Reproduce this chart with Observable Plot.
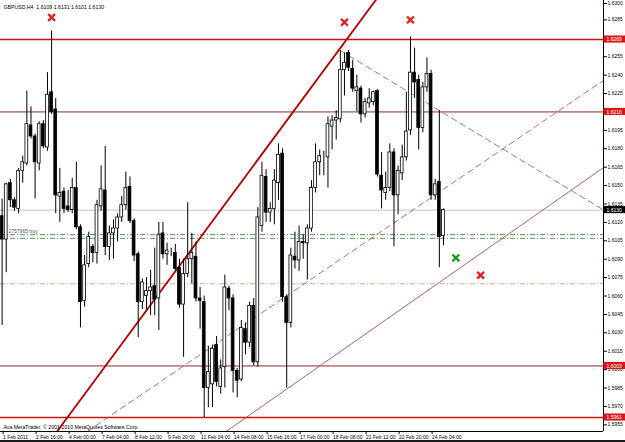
<!DOCTYPE html>
<html><head><meta charset="utf-8">
<script src="https://cdn.jsdelivr.net/npm/d3@7"></script>
<script src="https://cdn.jsdelivr.net/npm/@observablehq/plot@0.6"></script>
<style>
body{margin:0;background:#fff;}
#wrap{position:relative;width:625px;height:442px;overflow:hidden;}
#wrap svg{display:block;}
.bB{position:absolute;left:0;bottom:0;height:2px;width:625px;background:#1a1a1a;}
</style></head>
<body><div id="wrap"></div>
<script>
// ---- data (GBPUSD H4, one bar per index) ----
const opens = [1.6125,1.6106,1.6152,1.6138,1.6131,1.6162,1.6168,1.6199,1.6190,1.6168,
1.6200,1.6181,1.6226,1.6212,1.6141,1.6145,1.6133,1.6130,1.6148,1.6116,
1.6056,1.6086,1.6100,1.6095,1.6133,1.6146,1.6100,1.6111,1.6115,1.6124,
1.6134,1.6149,1.6121,1.6094,1.6055,1.6060,1.6064,1.6068,1.6058,1.6111,
1.6094,1.6096,1.6095,1.6083,1.6053,1.6078,1.6090,1.6092,1.6058,1.6055,
1.5985,1.5988,1.6020,1.5986,1.6002,1.6066,1.6058,1.5999,1.5992,1.6033,
1.6022,1.6052,1.6006,1.6117,1.6157,1.6128,1.6131,1.6152,1.6176,1.6059,
1.6038,1.6092,1.6089,1.6104,1.6103,1.6115,1.6148,1.6169,1.6173,1.6173,
1.6198,1.6203,1.6204,1.6244,1.6258,1.6245,1.6227,1.6229,1.6208,1.6217,
1.6218,1.6227,1.6158,1.6144,1.6148,1.6177,1.6142,1.6160,1.6173,1.6195,
1.6242,1.6236,1.6197,1.6230,1.6241,1.6142,1.6153,1.6109];
const highs = [1.6139,1.6152,1.6155,1.6140,1.6164,1.6174,1.6227,1.6214,1.6192,1.6202,
1.6203,1.6242,1.6276,1.6221,1.6164,1.6148,1.6146,1.6156,1.6169,1.6118,
1.6093,1.6112,1.6102,1.6138,1.6166,1.6182,1.6117,1.6122,1.6127,1.6141,
1.6161,1.6157,1.6123,1.6096,1.6074,1.6075,1.6081,1.6099,1.6120,1.6120,
1.6103,1.6099,1.6102,1.6090,1.6090,1.6136,1.6111,1.6104,1.6067,1.6060,
1.6019,1.6020,1.6027,1.6008,1.6077,1.6068,1.6061,1.6001,1.6040,1.6038,
1.6055,1.6058,1.6132,1.6169,1.6163,1.6136,1.6163,1.6184,1.6180,1.6061,
1.6099,1.6112,1.6117,1.6110,1.6118,1.6154,1.6184,1.6179,1.6178,1.6206,
1.6207,1.6211,1.6260,1.6258,1.6260,1.6252,1.6240,1.6231,1.6221,1.6229,
1.6227,1.6228,1.6177,1.6161,1.6184,1.6180,1.6166,1.6183,1.6226,1.6271,
1.6262,1.6240,1.6234,1.6254,1.6244,1.6155,1.6211,1.6131];
const lows = [1.6036,1.6079,1.6132,1.6129,1.6127,1.6152,1.6166,1.6188,1.6139,1.6162,
1.6180,1.6178,1.6208,1.6127,1.6120,1.6127,1.6128,1.6127,1.6114,1.6034,
1.6051,1.6083,1.6087,1.6086,1.6129,1.6093,1.6089,1.6090,1.6104,1.6120,
1.6130,1.6119,1.6088,1.6026,1.6049,1.6048,1.6044,1.6044,1.6032,1.6090,
1.6085,1.6092,1.6080,1.6050,1.6010,1.6075,1.6070,1.6055,1.6033,1.5961,
1.5969,1.5969,1.5986,1.5980,1.5985,1.6048,1.5981,1.5977,1.5990,1.6012,
1.6018,1.6003,1.6002,1.6112,1.6120,1.6120,1.6118,1.6138,1.6055,1.5985,
1.6034,1.6082,1.6080,1.6090,1.6073,1.6112,1.6144,1.6158,1.6158,1.6148,
1.6179,1.6187,1.6201,1.6223,1.6243,1.6226,1.6210,1.6201,1.6205,1.6213,
1.6215,1.6157,1.6131,1.6138,1.6145,1.6100,1.6126,1.6154,1.6170,1.6191,
1.6221,1.6179,1.6193,1.6226,1.6138,1.6138,1.6083,1.6101];
const closes = [1.6106,1.6151,1.6138,1.6132,1.6162,1.6169,1.6200,1.6190,1.6169,1.6200,
1.6182,1.6224,1.6210,1.6142,1.6144,1.6131,1.6130,1.6148,1.6116,1.6055,
1.6085,1.6108,1.6095,1.6134,1.6147,1.6100,1.6111,1.6115,1.6124,1.6134,
1.6148,1.6121,1.6093,1.6055,1.6071,1.6064,1.6067,1.6057,1.6110,1.6094,
1.6097,1.6096,1.6082,1.6053,1.6078,1.6090,1.6095,1.6058,1.6056,1.5985,
1.5998,1.6017,1.5990,1.6001,1.6067,1.6058,1.5999,1.5991,1.6034,1.6022,
1.6052,1.6006,1.6124,1.6158,1.6128,1.6131,1.6154,1.6175,1.6059,1.6038,
1.6093,1.6089,1.6104,1.6103,1.6115,1.6148,1.6169,1.6174,1.6173,1.6200,
1.6203,1.6205,1.6244,1.6250,1.6246,1.6229,1.6230,1.6208,1.6218,1.6221,
1.6226,1.6159,1.6146,1.6148,1.6177,1.6142,1.6162,1.6173,1.6194,1.6242,
1.6234,1.6197,1.6230,1.6241,1.6142,1.6151,1.6108,1.6130];

const xTickIdx = [0,8,16,24,32,40,48,56,64,72,80,88,96,104];
const xTickLabels = ["1 Feb 2011","2 Feb 16:00","4 Feb 00:00","7 Feb 04:00","8 Feb 12:00","9 Feb 20:00",
  "11 Feb 04:00","14 Feb 08:00","15 Feb 16:00","17 Feb 00:00","18 Feb 08:00","21 Feb 12:00",
  "22 Feb 20:00","24 Feb 04:00"];
const yTickVals = [1.6285,1.6270,1.6255,1.6240,1.6225,1.6210,1.6195,1.6180,1.6165,1.6150,1.6135,
  1.6120,1.6105,1.6090,1.6075,1.6060,1.6045,1.6030,1.6015,1.6000,1.5985,1.5970,1.5955];
const yTopTick = [1.6300];

const redLevels = [1.6269, 1.5961];       // bright red horizontal lines
const darkLevels = [1.6210, 1.6003];      // dark red horizontal lines
const labelLevels = ["1.6269","1.6210","1.6003","1.5961"];
const bidPrice = 1.6130;
const orderLevels = [1.6110, 1.6107];     // green dash-dot order lines
const tanLevel = 1.6070;

// trend line anchors [bar index, price]
const thickRed = [[20, 1.5980], [80, 1.6253]];
const lowerDashed = [[30, 1.5971], [100, 1.6131]];
const solidChannel = [[60, 1.5963], [100, 1.6057]];
const descDashed = [[82, 1.6260], [110, 1.6203]];   // ray to the right from first anchor

const crossIdx = [12, 83, 99, 116, 110];
const crossPrice = [1.6287, 1.6283, 1.6285, 1.6077, 1.6091];
const crossColor = ["#e01e1e","#e01e1e","#e01e1e","#e01e1e","#1a9a1a"];

const titleText = "GBPUSD,H4  1.6109 1.6131 1.6101 1.6130";
const copyText = "Ava MetaTrader, © 2001-2010 MetaQuotes Software Corp.";
const orderText = "2757965 buy";

// ---- build ----
const candles = opens.map((o, i) => ({i, o, h: highs[i], l: lows[i], c: closes[i]}));
const xmin = -0.388, xmax = 145.8;
const yDom = [1.59496, 1.63008];

function lineThrough(a, b, x0, x1) {
  const s = (b[1] - a[1]) / (b[0] - a[0]);
  return [[x0, a[1] + s * (x0 - a[0])], [x1, a[1] + s * (x1 - a[0])]];
}
const L1 = lineThrough(thickRed[0], thickRed[1], xmin - 5, xmax + 5);
const L2 = lineThrough(lowerDashed[0], lowerDashed[1], xmin - 5, xmax + 5);
const L3 = lineThrough(solidChannel[0], solidChannel[1], xmin - 5, xmax + 5);
const L4 = lineThrough(descDashed[0], descDashed[1], descDashed[0][0], xmax + 5);

const boxes = labelLevels.map((t) => ({t, p: +t}));
const pxPerIdx = 603 / (xmax - xmin);
const boxW = 22 / pxPerIdx;
const halfH = 0.00029;

const crosses = crossIdx.map((x, k) => ({x, y: crossPrice[k], c: crossColor[k]}));

const font = "Liberation Sans, Arial, sans-serif";

const plot = Plot.plot({
  width: 625, height: 442,
  marginLeft: 0, marginRight: 22, marginTop: 0, marginBottom: 11,
  style: {fontFamily: font, fontSize: "5px", background: "#fff"},
  x: {domain: [xmin, xmax]},
  y: {domain: yDom},
  marks: [
    // horizontal levels
    Plot.ruleY([bidPrice], {stroke: "#c4c4c4", strokeWidth: 1}),
    Plot.ruleY(orderLevels, {stroke: (d, k) => k === 0 ? "#3d9a3d" : "#6a8f6a", strokeWidth: 1, strokeDasharray: "5,2,1,2"}),
    Plot.ruleY([tanLevel], {stroke: "#d8ab8c", strokeWidth: 1, strokeDasharray: "5,2,1,2"}),
    Plot.ruleY(darkLevels, {stroke: "#8e2a2a", strokeWidth: 1}),
    Plot.ruleY(redLevels, {stroke: "#cc1111", strokeWidth: 1.6}),
    // trend lines
    Plot.line(L2, {x: d => d[0], y: d => d[1], stroke: "#a86464", strokeWidth: 0.9, strokeDasharray: "6,4", clip: true}),
    Plot.line(L4, {x: d => d[0], y: d => d[1], stroke: "#a86464", strokeWidth: 0.9, strokeDasharray: "6,4", clip: true}),
    Plot.line(L3, {x: d => d[0], y: d => d[1], stroke: "#a25555", strokeWidth: 0.9, clip: true}),
    Plot.line(L1, {x: d => d[0], y: d => d[1], stroke: "#b00000", strokeWidth: 1.8, clip: true}),
    // candles
    Plot.ruleX(candles, {x: "i", y1: "l", y2: "h", stroke: "#000", strokeWidth: 1}),
    Plot.rect(candles, {x1: d => d.i - 0.34, x2: d => d.i + 0.34, y1: "o", y2: "c",
      fill: d => d.c >= d.o ? "#fff" : "#000", stroke: "#000", strokeWidth: 0.8}),
    // fractal crosses
    Plot.dot(crosses, {x: "x", y: "y", symbol: "times", r: 3.2, stroke: "c", strokeWidth: 2.3}),
    // texts
    Plot.text([titleText], {frameAnchor: "top-left", dx: 3, dy: 5, fill: "#000", fontSize: 5.2, textAnchor: "start"}),
    Plot.text([copyText], {frameAnchor: "bottom-left", dx: 3, dy: -3, fill: "#000", fontSize: 5.2, textAnchor: "start"}),
    Plot.text([orderText], {x: xmin, y: orderLevels[0], dx: 8, dy: -3, fill: "#555", fontSize: 5, textAnchor: "start"}),
    // axes
    Plot.axisY({anchor: "right", ticks: yTickVals, tickFormat: d => d.toFixed(4), tickSize: 3, tickPadding: 1, fontSize: 5}),
    Plot.axisY({anchor: "right", ticks: yTopTick, tickFormat: d => d.toFixed(4), tickSize: 3, tickPadding: 1, fontSize: 5, dy: 2}),
    Plot.axisX({ticks: xTickIdx, tickFormat: d => xTickLabels[xTickIdx.indexOf(d)], tickSize: 3, tickPadding: 1,
      textAnchor: "start", dx: 1, fontSize: 5}),
    Plot.ruleX([xmax], {stroke: "#000", strokeWidth: 1}),
    Plot.ruleY([yDom[0]], {stroke: "#000", strokeWidth: 1}),
    // price boxes on the right axis
    Plot.rect(boxes, {x1: xmax + 0.1, x2: xmax + boxW, y1: d => d.p - halfH, y2: d => d.p + halfH, fill: "#d81818"}),
    Plot.text(boxes, {x: xmax, y: "p", text: "t", dx: 3, fill: "#fff", fontSize: 5, textAnchor: "start"}),
    Plot.rect([bidPrice], {x1: xmax + 0.1, x2: xmax + boxW, y1: d => d - halfH, y2: d => d + halfH, fill: "#000"}),
    Plot.text([bidPrice], {x: xmax, y: d => d, text: d => d.toFixed(4), dx: 3, fill: "#fff", fontSize: 5, textAnchor: "start"})
  ]
});
const wrap = document.getElementById("wrap");
wrap.appendChild(plot);
const b = document.createElement("div"); b.className = "bB"; wrap.appendChild(b);
</script>
</body></html>
